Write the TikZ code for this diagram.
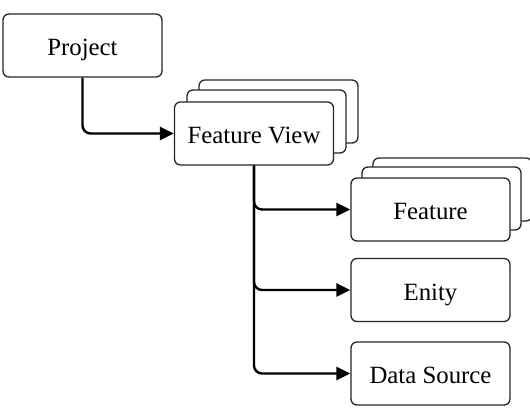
\documentclass[tikz,border=0pt]{standalone}
\usepackage{fontspec}
\setmainfont{Liberation Serif}
\usetikzlibrary{arrows.meta}
\begin{document}
\begin{tikzpicture}[x=1pt,y=-1pt,
  box/.style={draw=black!85, line width=1.3pt, rounded corners=6pt, fill=white,
    minimum width=159pt, minimum height=63pt, inner sep=0pt,
    text height=20.4pt, text depth=0pt,
    font=\fontsize{24.8}{29}\selectfont},
  conn/.style={line width=2.4pt, rounded corners=8pt,
    -{Triangle[length=14pt,width=13pt]}}
]
\useasboundingbox (0,0) rectangle (530,409);
\node[box] (proj) at (82.5,45.5) {Project};
% Feature View stack
\node[box] (fvb) at (278.5,111.5) {};
\node[box] (fvm) at (266.5,121.5) {};
\node[box] (fv) at (254,133.5) {Feature View};
% Feature stack
\node[box] (feb) at (452.5,189.5) {};
\node[box] (fem) at (441.5,198.5) {};
\node[box] (fe) at (430.5,209.5) {Feature};
\node[box] (en) at (430.5,290) {Enity};
\node[box] (ds) at (430.5,373.5) {Data Source};
\draw[conn] (proj.south) |- (fv.west);
\draw[conn] (fv.south) |- (fe.west);
\draw[conn] (fv.south) |- (en.west);
\draw[conn] (fv.south) |- (ds.west);
\end{tikzpicture}
\end{document}
